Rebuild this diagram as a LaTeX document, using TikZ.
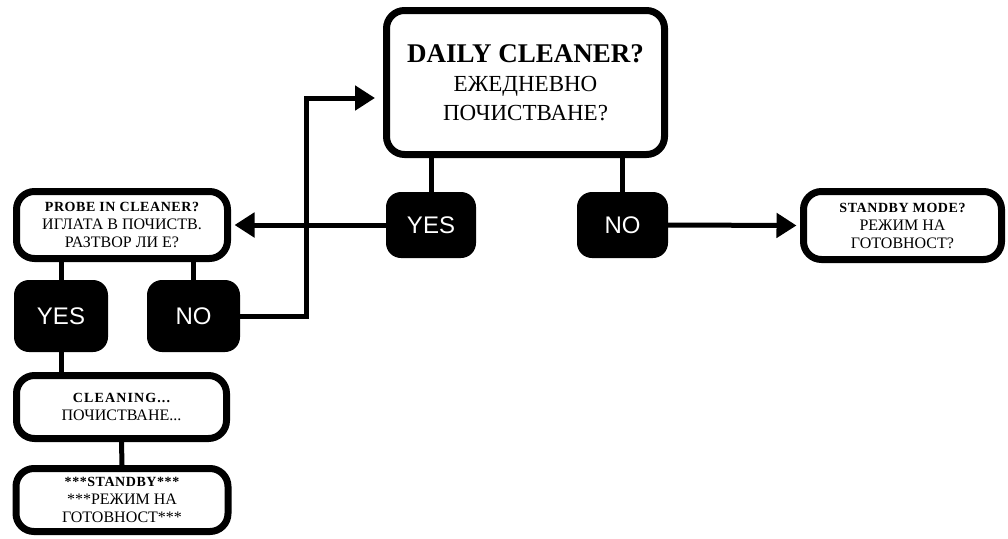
\documentclass[tikz,border=0pt]{standalone}
\usepackage{fontspec}
\setmainfont{Liberation Serif}
\newfontfamily\labelsans{Liberation Sans}
\usetikzlibrary{arrows.meta}
\newcommand{\headline}[1]{{\fontsize{14}{18}\selectfont\bfseries\addfontfeature{LetterSpace=4}#1}}
\begin{document}
\begin{tikzpicture}[x=1pt,y=-1pt,
  qbox/.style={draw=black,line width=7pt,rounded corners=18pt,fill=white,
    inner sep=0pt,align=center,text=black},
  ansbox/.style={fill=black,rounded corners=15pt,inner sep=0pt,text=white,
    font=\labelsans\fontsize{24}{28}\selectfont},
  small/.style={font=\fontsize{16}{18}\selectfont},
  link/.style={line width=5pt,line cap=butt},
  arrowlink/.style={link,-{Triangle[length=20pt,width=24pt]}}]
\useasboundingbox (0,0) rectangle (1008,538);
\fill[white] (0,0) rectangle (1008,538);

% question boxes
\node[qbox,minimum width=278pt,minimum height=144pt,
  font=\fontsize{23}{29}\selectfont] (daily) at (525.5,82.5)
  {{\fontsize{27}{29}\selectfont\bfseries DAILY CLEANER?}\\ЕЖЕДНЕВНО\\ПОЧИСТВАНЕ?};
\node[qbox,small,minimum width=211pt,minimum height=67pt] (probe) at (122,225)
  {\headline{PROBE IN CLEANER?}\\ИГЛАТА В ПОЧИСТВ.\\РАЗТВОР ЛИ Е?};
\node[qbox,small,minimum width=198pt,minimum height=68pt] (mode) at (902.5,225.5)
  {\headline{STANDBY MODE?}\\РЕЖИМ НА\\ГОТОВНОСТ?};
\node[qbox,small,minimum width=210pt,minimum height=63pt] (clean) at (121.5,407)
  {\headline{\addfontfeature{LetterSpace=8}CLEANING...}\\ПОЧИСТВАНЕ...};
\node[qbox,small,minimum width=212pt,minimum height=63pt] (standby) at (122,500)
  {\headline{***STANDBY***}\\***РЕЖИМ НА\\ГОТОВНОСТ***};

% answer boxes
\node[ansbox,minimum width=90pt,minimum height=66pt] (yesA) at (431,225) {YES};
\node[ansbox,minimum width=91pt,minimum height=66pt] (noA) at (622.5,225) {NO};
\node[ansbox,minimum width=94pt,minimum height=72pt] (yesB) at (61,316) {YES};
\node[ansbox,minimum width=93pt,minimum height=72pt] (noB) at (193.5,316) {NO};

% connectors
\coordinate (bend) at (306,98);
\draw[link] (yesA.north) -- (yesA.north |- daily.south);
\draw[link] (noA.north) -- (noA.north |- daily.south);
\draw[arrowlink] (yesA.west) -- ([xshift=3.5pt]probe.east);
\draw[arrowlink] (noA.east) -- ([xshift=-3.5pt]mode.west);
\draw[link] (yesB.north) -- (yesB.north |- probe.south);
\draw[link] (noB.north) -- (noB.north |- probe.south);
\draw[arrowlink] (noB.east) -| (bend) -- ([xshift=-8pt]bend -| daily.west);
\draw[link] (yesB.south) -- (yesB.south |- clean.north);
\draw[link] (clean.south) -- (standby.north);
\end{tikzpicture}
\end{document}
